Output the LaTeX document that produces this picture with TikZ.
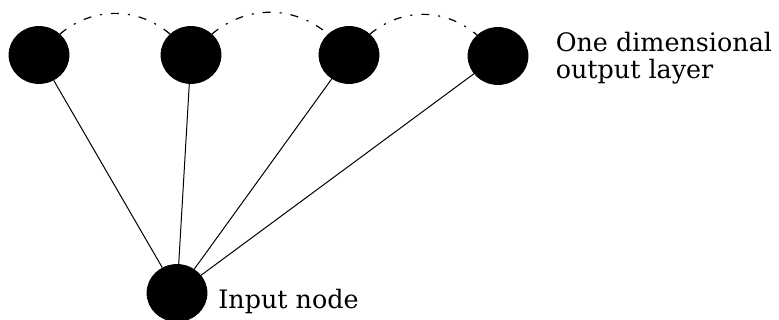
\documentclass[tikz,border=0pt]{standalone}
\usepackage{fontspec}
\setmainfont{DejaVu Serif}
\usepackage{tikz}
\usetikzlibrary{shapes.geometric,positioning}
\tikzset{
  unit/.style={ellipse,fill=black,draw=black,minimum width=30pt,minimum height=28.5pt,inner sep=0pt},
  link/.style={line width=0.5pt,black},
  nbr/.style={line width=0.6pt,black,dash pattern=on 4pt off 4.5pt on 1pt off 4.5pt},
  lbl/.style={font=\fontsize{12.7}{13.6}\selectfont,align=left,inner sep=0pt,text=black},
}
\begin{document}
\begin{tikzpicture}[x=0.5pt,y=-0.5pt]
  \useasboundingbox[fill=white] (0,0) rectangle (779,320);
  \node[unit] (o1) at (39,55) {};
  \node[unit] (o2) at (191,55) {};
  \node[unit] (o3) at (349,55) {};
  \node[unit] (o4) at (498,56) {};
  \node[unit] (in) at (177,293) {};
  \node[lbl,anchor=west,right=13.5pt of o4.east,yshift=-1pt] (olbl) {One dimensional\\output layer};
  \node[lbl,anchor=base west] (ilbl) at (218,308) {Input node};
  \foreach \o in {o1,o2,o3,o4}
    \draw[link] (in) -- (\o);
  \draw[nbr] (o1.45) to[bend left=40] (o2.135);
  \draw[nbr] (o2.45) to[bend left=40] (o3.135);
  \draw[nbr] (o3.45) to[bend left=40] (o4.135);
\end{tikzpicture}
\end{document}
